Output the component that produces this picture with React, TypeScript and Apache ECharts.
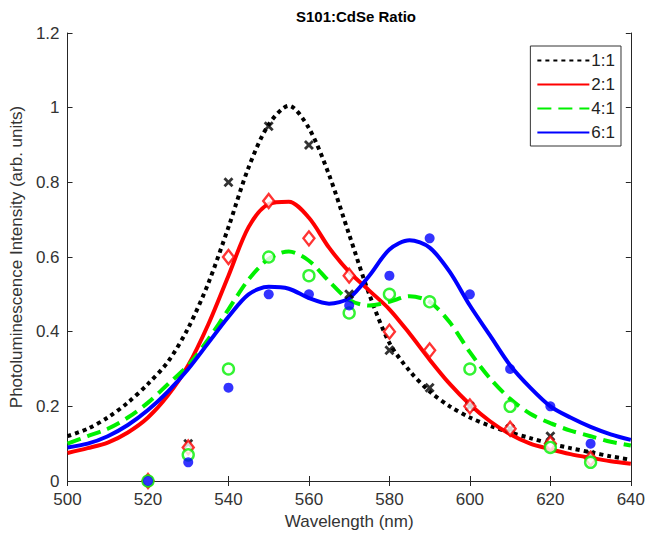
import React, { useEffect, useRef } from "react";
import * as echarts from "echarts";

// Fitted curves (wavelength nm, intensity)
const curveX = [500, 505, 510, 515, 520, 525, 530, 535, 540, 545, 550, 555, 560, 565, 570, 575, 580, 585, 590, 595, 600, 605, 610, 615, 620, 625, 630, 635, 640];
const fit11 = [0.12, 0.14, 0.17, 0.21, 0.26, 0.32, 0.41, 0.53, 0.68, 0.84, 0.955, 1.005, 0.945, 0.82, 0.66, 0.5, 0.37, 0.295, 0.24, 0.2, 0.17, 0.148, 0.13, 0.115, 0.1, 0.088, 0.077, 0.066, 0.057];
const fit21 = [0.075, 0.088, 0.103, 0.13, 0.17, 0.23, 0.31, 0.42, 0.55, 0.68, 0.742, 0.748, 0.705, 0.625, 0.56, 0.51, 0.46, 0.395, 0.325, 0.26, 0.205, 0.16, 0.125, 0.1, 0.085, 0.072, 0.062, 0.053, 0.046];
const fit41 = [0.1, 0.12, 0.14, 0.17, 0.21, 0.26, 0.31, 0.38, 0.46, 0.54, 0.595, 0.615, 0.59, 0.535, 0.485, 0.47, 0.48, 0.495, 0.48, 0.425, 0.345, 0.275, 0.22, 0.18, 0.155, 0.135, 0.12, 0.105, 0.095];
const fit61 = [0.09, 0.1, 0.12, 0.15, 0.19, 0.24, 0.3, 0.37, 0.44, 0.5, 0.52, 0.515, 0.49, 0.475, 0.49, 0.55, 0.62, 0.645, 0.625, 0.56, 0.47, 0.39, 0.31, 0.25, 0.2, 0.17, 0.145, 0.125, 0.11];

// Measured points
const dataX = [520, 530, 540, 550, 560, 570, 580, 590, 600, 610, 620, 630];
const data11 = [0, 0.1, 0.8, 0.95, 0.9, 0.5, 0.35, 0.25, 0.2, 0.14, 0.12, 0.07];
const data21 = [0, 0.09, 0.6, 0.75, 0.65, 0.55, 0.4, 0.35, 0.2, 0.14, 0.1, 0.06];
const data41 = [0, 0.07, 0.3, 0.6, 0.55, 0.45, 0.5, 0.48, 0.3, 0.2, 0.09, 0.05];
const data61 = [0, 0.05, 0.25, 0.5, 0.5, 0.47, 0.55, 0.65, 0.5, 0.3, 0.2, 0.1];

const seriesNames = ["1:1", "2:1", "4:1", "6:1"];
const colors = ["#000000", "#ff0000", "#00f000", "#0000ff"];

const FONT = "'Liberation Sans', Arial, Helvetica, sans-serif";

const pair = (xs: number[], ys: number[]) => xs.map((x, i) => [x, ys[i]]);

const crossPath =
  "path://M0,2 L2,0 L5,3 L8,0 L10,2 L7,5 L10,8 L8,10 L5,7 L2,10 L0,8 L3,5 Z";

export default function App() {
  const ref = useRef<HTMLDivElement>(null);
  useEffect(() => {
    if (!ref.current) return;
    const chart = echarts.init(ref.current, undefined, { renderer: "svg" });
    const axisCommon = {
      type: "value" as const,
      axisLine: { show: true, lineStyle: { color: "#262626", width: 1 } },
      axisTick: { show: true, inside: true, length: 5, lineStyle: { color: "#262626" } },
      splitLine: { show: false },
    };
    const fits = [fit11, fit21, fit41, fit61];
    const dashes: any[] = [[4, 4], "solid", [14, 7], "solid"];
    const datas = [data11, data21, data41, data61];
    const lineSeries = fits.map((f, i) => ({
      name: seriesNames[i],
      type: "line",
      data: pair(curveX, f),
      smooth: 0.3,
      showSymbol: false,
      symbol: "none",
      z: 2,
      lineStyle: { color: colors[i], width: 4, type: dashes[i] },
      itemStyle: { color: colors[i] },
    }));
    const markerDefs: any[] = [
      { symbol: crossPath, symbolSize: 10, itemStyle: { color: "#000" } },
      { symbol: "diamond", symbolSize: [11, 14], itemStyle: { color: "#fff", borderColor: "#ff0000", borderWidth: 2.4 } },
      { symbol: "circle", symbolSize: 11, itemStyle: { color: "#fff", borderColor: "#00f000", borderWidth: 2.4 } },
      { symbol: "circle", symbolSize: 10, itemStyle: { color: "#0000ff" } },
    ];
    const scatterSeries = datas.map((d, i) => ({
      name: seriesNames[i] + " data",
      type: "scatter",
      data: pair(dataX, d),
      clip: false,
      z: 3,
      ...markerDefs[i],
    }));
    chart.setOption({
      animation: false,
      backgroundColor: "#ffffff",
      textStyle: { fontFamily: FONT },
      title: {
        text: "S101:CdSe Ratio",
        left: 351,
        textAlign: "center",
        top: 4,
        textStyle: { fontFamily: FONT, fontSize: 15, fontWeight: "bold", color: "#000" },
      },
      legend: {
        data: seriesNames,
        orient: "vertical",
        right: 27,
        top: 46,
        padding: [6, 6, 5, 6],
        itemWidth: 52,
        itemHeight: 14,
        itemGap: 7,
        backgroundColor: "#fff",
        borderColor: "#333",
        borderWidth: 1,
        borderRadius: 0,
        itemStyle: { color: "transparent", borderColor: "transparent", borderWidth: 0 },
        textStyle: { fontFamily: FONT, fontSize: 17, color: "#222", padding: [0, 0, 0, -3] },
      },
      grid: { left: 66, right: 12, top: 33, bottom: 60, containLabel: false },
      xAxis: [
        {
          ...axisCommon,
          position: "bottom",
          min: 500,
          max: 640,
          interval: 20,
          name: "Wavelength (nm)",
          nameLocation: "middle",
          nameGap: 31,
          nameTextStyle: { fontFamily: FONT, fontSize: 17, color: "#333" },
          axisLabel: { fontFamily: FONT, fontSize: 17, color: "#333", margin: 10 },
        },
        {
          ...axisCommon,
          position: "top",
          min: 500,
          max: 640,
          interval: 20,
          axisLabel: { show: false },
        },
      ],
      yAxis: [
        {
          ...axisCommon,
          position: "left",
          min: 0,
          max: 1.2,
          interval: 0.2,
          name: "Photoluminescence Intensity (arb. units)",
          nameLocation: "middle",
          nameGap: 38,
          nameTextStyle: { fontFamily: FONT, fontSize: 17, color: "#333" },
          axisLabel: {
            fontFamily: FONT,
            fontSize: 17,
            color: "#333",
            margin: 8,
            formatter: (v: number) => String(Math.round(v * 10) / 10),
          },
        },
        {
          ...axisCommon,
          position: "right",
          min: 0,
          max: 1.2,
          interval: 0.2,
          axisLabel: { show: false },
        },
      ],
      series: [...lineSeries, ...scatterSeries],
    });
    return () => chart.dispose();
  }, []);
  return (
    <div
      ref={ref}
      style={{ position: "fixed", left: 0, top: 0, width: 648, height: 541, background: "#fff" }}
    />
  );
}
